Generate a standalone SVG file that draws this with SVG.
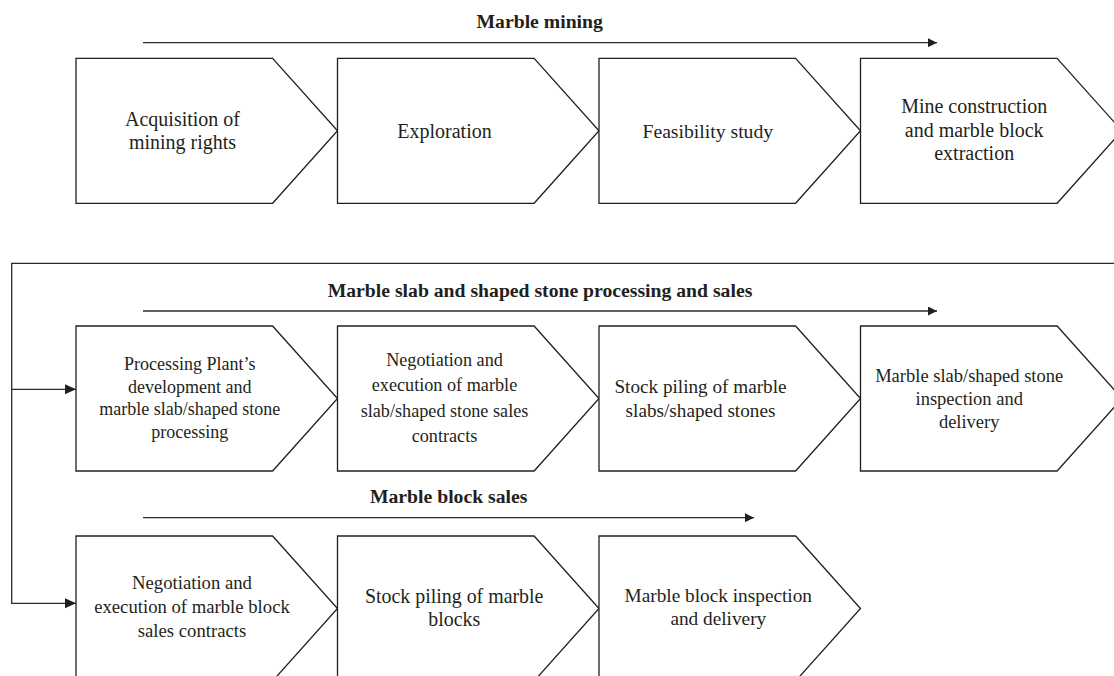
<svg xmlns="http://www.w3.org/2000/svg" width="1114" height="676" viewBox="0 0 1114 676">
<defs>
<style>
.box{fill:#fff;stroke:#231f20;stroke-width:1.3;stroke-linejoin:miter}
.ln{fill:none;stroke:#2a2a2a;stroke-width:1.3}
.t{font-family:"Liberation Serif","Times New Roman",serif;fill:#231f20;text-anchor:middle}
.h{font-family:"Liberation Serif","Times New Roman",serif;font-weight:bold;fill:#231f20;text-anchor:middle;font-size:19.7px}
</style>
<marker id="ah" markerUnits="userSpaceOnUse" markerWidth="10" markerHeight="9" refX="9" refY="4.5" orient="auto">
<path d="M0,0 L9,4.5 L0,9 Z" fill="#231f20"/>
</marker>
<marker id="ahl" markerUnits="userSpaceOnUse" markerWidth="12" markerHeight="11" refX="11" refY="5" orient="auto">
<path d="M0,0 L11,5 L0,10 Z" fill="#231f20"/>
</marker>
</defs>
<rect width="1114" height="676" fill="#fff"/>

<g id="connectors">
<line class="ln" x1="143" y1="42.7" x2="937" y2="42.7" marker-end="url(#ah)"/>
<line class="ln" x1="143" y1="311" x2="937" y2="311" marker-end="url(#ah)"/>
<line class="ln" x1="143" y1="517.7" x2="754" y2="517.7" marker-end="url(#ah)"/>
<polyline class="ln" points="1114,263.3 11.7,263.3 11.7,603.3 76,603.3" marker-end="url(#ahl)"/>
<line class="ln" x1="11.7" y1="389.3" x2="76" y2="389.3" marker-end="url(#ahl)"/>
</g>

<g id="titles">
<text class="h" x="539.7" y="28.3">Marble mining</text>
<text class="h" x="540" y="296.7">Marble slab and shaped stone processing and sales</text>
<text class="h" x="448.7" y="502.7">Marble block sales</text>
</g>

<g id="r1b1">
<polygon class="box" points="76,58.3 272.6,58.3 337.5,130.8 272.6,203.3 76,203.3"/>
<text class="t" font-size="20" x="182.5"><tspan x="182.5" y="126">Acquisition of</tspan><tspan x="182.5" y="149.3">mining rights</tspan></text>
</g>
<g id="r1b2">
<polygon class="box" points="337.5,58.3 534.1,58.3 599,130.8 534.1,203.3 337.5,203.3"/>
<text class="t" font-size="20" x="444.5" y="138">Exploration</text>
</g>
<g id="r1b3">
<polygon class="box" points="599,58.3 795.6,58.3 860.5,130.8 795.6,203.3 599,203.3"/>
<text class="t" font-size="19.7" x="707.8" y="138">Feasibility study</text>
</g>
<g id="r1b4">
<polygon class="box" points="860.5,58.3 1057.1,58.3 1122,130.8 1057.1,203.3 860.5,203.3"/>
<text class="t" font-size="20"><tspan x="974.2" y="113.3">Mine construction</tspan><tspan x="974.2" y="136.7">and marble block</tspan><tspan x="974.2" y="160">extraction</tspan></text>
</g>

<g id="r2b1">
<polygon class="box" points="76,326 272.6,326 337.5,398.5 272.6,471 76,471"/>
<text class="t" font-size="18"><tspan x="189.7" y="370">Processing Plant’s</tspan><tspan x="189.7" y="392.5">development and</tspan><tspan x="189.7" y="415">marble slab/shaped stone</tspan><tspan x="189.7" y="437.5">processing</tspan></text>
</g>
<g id="r2b2">
<polygon class="box" points="337.5,326 534.1,326 599,398.5 534.1,471 337.5,471"/>
<text class="t" font-size="18.2"><tspan x="444.5" y="366">Negotiation and</tspan><tspan x="444.5" y="391">execution of marble</tspan><tspan x="444.5" y="416.5">slab/shaped stone sales</tspan><tspan x="444.5" y="441.5">contracts</tspan></text>
</g>
<g id="r2b3">
<polygon class="box" points="599,326 795.6,326 860.5,398.5 795.6,471 599,471"/>
<text class="t" font-size="19.2"><tspan x="700.5" y="393.3">Stock piling of marble</tspan><tspan x="700.5" y="416.7">slabs/shaped stones</tspan></text>
</g>
<g id="r2b4">
<polygon class="box" points="860.5,326 1057.1,326 1122,398.5 1057.1,471 860.5,471"/>
<text class="t" font-size="18.5"><tspan x="969.2" y="381.7">Marble slab/shaped stone</tspan><tspan x="969.2" y="405">inspection and</tspan><tspan x="969.2" y="428.3">delivery</tspan></text>
</g>

<g id="r3b1">
<polygon class="box" points="76,536 272.6,536 337.5,608.5 272.6,681 76,681"/>
<text class="t" font-size="18.7"><tspan x="192" y="589">Negotiation and</tspan><tspan x="192" y="612.7">execution of marble block</tspan><tspan x="192" y="636.5">sales contracts</tspan></text>
</g>
<g id="r3b2">
<polygon class="box" points="337.5,536 534.1,536 599,608.5 534.1,681 337.5,681"/>
<text class="t" font-size="19.9"><tspan x="454.2" y="602.7">Stock piling of marble</tspan><tspan x="454.2" y="626">blocks</tspan></text>
</g>
<g id="r3b3">
<polygon class="box" points="599,536 795.6,536 860.5,608.5 795.6,681 599,681"/>
<text class="t" font-size="19.3"><tspan x="718.3" y="602.3">Marble block inspection</tspan><tspan x="718.3" y="625">and delivery</tspan></text>
</g>
</svg>
